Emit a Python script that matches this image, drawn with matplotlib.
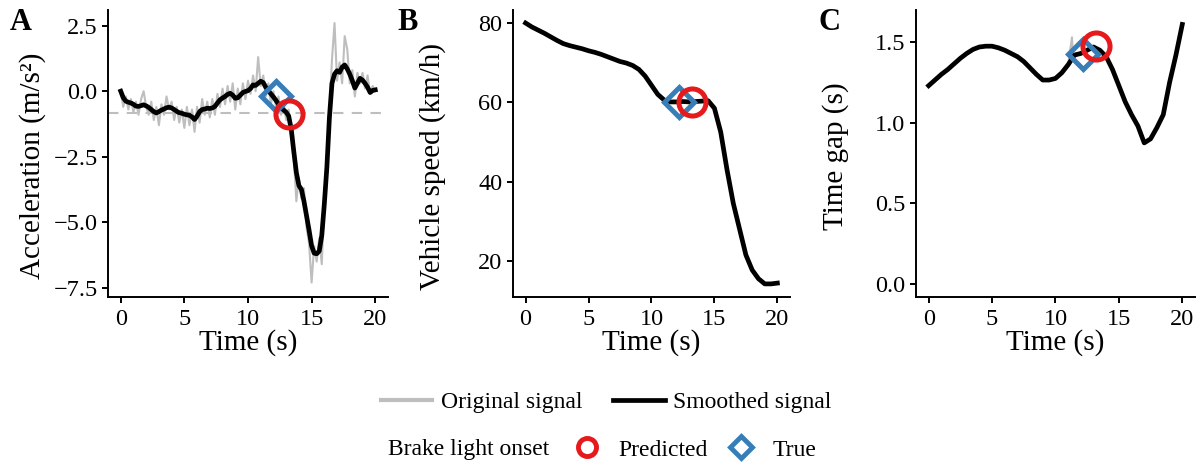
import numpy as np
import matplotlib
matplotlib.use("Agg")
import matplotlib.pyplot as plt
from matplotlib.lines import Line2D
from matplotlib.ticker import FuncFormatter

plt.rcParams['font.family'] = ['Liberation Serif', 'DejaVu Serif']
plt.rcParams['font.size'] = 17

# --- données ---
# accélération, pas de 0.2 s
time_acc = np.arange(0, 20.01, 0.2)
acc_original = [
    0.0, -0.6, -0.2, -0.7, -0.3, -0.8, -0.4, -0.9, -0.3, 0.0,
    -0.6, -0.9, -0.4, -1.1, -0.6, -1.3, -0.5, -0.9, -0.2, -0.7,
    -0.4, -1.1, -0.6, -1.2, -0.7, -1.4, -0.6, -1.3, -0.7, -1.55,
    -0.6, -1.2, -0.3, -0.9, -0.4, -1.0, -0.3, -0.9, -0.1, -0.6,
    0.1, -0.5, 0.2, -0.4, 0.3, -0.7, 0.1, -0.5, 0.3, -0.3,
    0.4, -0.1, 0.6, 0.0, 1.3, 0.2, 0.6, -0.2, 0.3, -0.5,
    0.0, -0.6, -0.2, -0.9, -0.4, -1.1, -0.7, -1.6, -2.5, -4.2,
    -3.3, -4.1, -3.7, -5.2, -5.8, -7.3, -5.9, -6.5, -5.6, -6.6,
    -4.1, -2.5, -0.8, 1.2, 2.6, 0.4, 1.1, 0.3, 2.1, 1.6,
    0.3, 0.8, -0.2, 0.7, 0.3, 0.7, 0.1, 0.6, -0.1, 0.2,
    0.0,
]
acc_smoothed = [
    0.0, -0.25, -0.38, -0.42, -0.45, -0.5, -0.57, -0.58, -0.55, -0.52,
    -0.56, -0.62, -0.7, -0.78, -0.83, -0.78, -0.72, -0.68, -0.63, -0.61,
    -0.64, -0.7, -0.77, -0.82, -0.84, -0.88, -0.9, -0.92, -0.98, -1.08,
    -0.95, -0.78, -0.7, -0.68, -0.65, -0.66, -0.64, -0.58, -0.45, -0.33,
    -0.26, -0.2, -0.12, -0.08, -0.15, -0.27, -0.25, -0.15, -0.05, -0.01,
    0.02, 0.1, 0.24, 0.22, 0.3, 0.38, 0.33, 0.15, 0.02, -0.1,
    -0.22, -0.35, -0.5, -0.62, -0.72, -0.8, -0.95, -1.45, -2.3, -3.1,
    -3.6, -3.75, -4.2, -4.75, -5.3, -5.9, -6.18, -6.2, -6.1, -5.5,
    -4.3, -2.9, -1.0, 0.3, 0.65, 0.78, 0.72, 0.92, 1.0, 0.85,
    0.65, 0.4, 0.12, 0.3, 0.49, 0.42, 0.3, 0.15, -0.05, 0.03,
    0.05,
]
acc_threshold = -0.82

# vitesse et temps inter-véhiculaire, pas de 0.5 s
time_coarse = np.arange(0, 20.01, 0.5)
speed = [
    80.0, 79.0, 78.2, 77.4, 76.5, 75.6, 74.8, 74.3, 73.9, 73.5,
    73.0, 72.6, 72.1, 71.5, 70.9, 70.3, 69.9, 69.3, 68.3, 66.6,
    64.3, 62.0, 60.6, 60.1, 60.1, 60.2, 60.1, 60.2, 60.3, 60.4,
    58.5, 52.5, 43.0, 34.5, 28.0, 21.5, 17.7, 15.5, 14.2, 14.2,
    14.4,
]
time_gap = [
    1.23, 1.265, 1.30, 1.33, 1.365, 1.40, 1.43, 1.455, 1.47, 1.475,
    1.475, 1.465, 1.45, 1.43, 1.41, 1.38, 1.34, 1.30, 1.265, 1.265,
    1.275, 1.31, 1.36, 1.42, 1.43, 1.45, 1.47, 1.45, 1.41, 1.33,
    1.23, 1.13, 1.05, 0.98, 0.875, 0.90, 0.97, 1.05, 1.25, 1.42,
    1.61,
]
gap_orig_t = [11.0, 11.3, 11.4, 11.6]
gap_orig = [1.36, 1.53, 1.40, 1.42]

# début du feu stop
onset_pred_t = 13.2
onset_true_t = 12.2
pred_y = [-0.86, 60.0, 1.475]
true_y = [-0.19, 60.1, 1.425]

GREY = '#BEBEBE'
RED = '#E41A1C'
BLUE = '#377EB8'

fig = plt.figure(figsize=(12, 4.66), dpi=100)

positions = [
    [0.090, 0.3627, 0.2333, 0.616],
    [0.4275, 0.3627, 0.2308, 0.616],
    [0.7633, 0.3627, 0.2325, 0.616],
]
axes = [fig.add_axes(p) for p in positions]
ylabel_xy = [(-0.221, 0.456), (-0.242, 0.456), (-0.240, 0.49)]

one_decimal = FuncFormatter(lambda v, p: f'{v:.1f}'.replace('-', '\u2212'))


def style_axis(ax, i):
    for s in ['top', 'right']:
        ax.spines[s].set_visible(False)
    for s in ['left', 'bottom']:
        ax.spines[s].set_linewidth(1.4)
        ax.spines[s].set_color('black')
    ax.tick_params(direction='out', length=4.5, width=1.4, color='black',
                   labelcolor='black', labelsize=17.5, pad=3)
    ax.tick_params(axis='x', pad=4)
    ax.set_xlim(-1, 21)
    ax.set_xticks([0, 5, 10, 15, 20])
    ax.set_xlabel('Time (s)', fontsize=21)
    ax.xaxis.set_label_coords(0.5, -0.113)
    ax.yaxis.set_label_coords(*ylabel_xy[i])


def draw_onsets(ax, i):
    ax.plot(onset_true_t, true_y[i], marker='D', ms=15, mew=3.6,
            mfc='none', mec=BLUE, ls='none', zorder=5)
    ax.plot(onset_pred_t, pred_y[i], marker='o', ms=19.5, mew=3.6,
            mfc='none', mec=RED, ls='none', zorder=6)


# A : accélération
ax = axes[0]
ax.axhline(acc_threshold, color=GREY, lw=1.5, ls=(0, (5, 4)), zorder=1)
ax.plot(time_acc, acc_original, color=GREY, lw=1.5, zorder=2)
ax.plot(time_acc, acc_smoothed, color='black', lw=3.4, zorder=3)
draw_onsets(ax, 0)
ax.set_ylim(-7.85, 3.1)
ax.set_yticks([-7.5, -5.0, -2.5, 0.0, 2.5])
ax.yaxis.set_major_formatter(one_decimal)
ax.set_ylabel('Acceleration (m/s\u00b2)', fontsize=21)
style_axis(ax, 0)

# B : vitesse
ax = axes[1]
ax.plot(time_coarse, speed, color=GREY, lw=1.5, zorder=2)
ax.plot(time_coarse, speed, color='black', lw=3.4, zorder=3)
draw_onsets(ax, 1)
ax.set_ylim(10.9, 83.3)
ax.set_yticks([20, 40, 60, 80])
ax.set_ylabel('Vehicle speed (km/h)', fontsize=21)
style_axis(ax, 1)

# C : temps inter-véhiculaire
ax = axes[2]
ax.plot(gap_orig_t, gap_orig, color=GREY, lw=1.5, zorder=2)
ax.plot(time_coarse, time_gap, color='black', lw=3.4, zorder=3)
draw_onsets(ax, 2)
ax.set_ylim(-0.081, 1.70)
ax.set_yticks([0.0, 0.5, 1.0, 1.5])
ax.yaxis.set_major_formatter(one_decimal)
ax.set_ylabel('Time gap (s)', fontsize=21)
style_axis(ax, 2)

# lettres des panneaux
for x, lab in zip([10, 397, 818], ['A', 'B', 'C']):
    fig.text(x / 1200, 1 - 22 / 466, lab, fontsize=22, fontweight='bold',
             ha='left', va='center')

# légende ligne 1
line_handles = [Line2D([], [], color=GREY, lw=3),
                Line2D([], [], color='black', lw=3.4)]
fig.legend(line_handles, ['Original signal', 'Smoothed signal'],
           loc='center', bbox_to_anchor=(0.505, 1 - 402 / 466), ncol=2,
           frameon=False, fontsize=17, handlelength=2.2, handletextpad=0.35,
           columnspacing=1.3, borderpad=0, borderaxespad=0)

# légende ligne 2
fig.text(388 / 1200, 1 - 450 / 466, 'Brake light onset', fontsize=17,
         ha='left', va='center')
marker_handles = [
    Line2D([], [], marker='o', ms=13, mew=3.5, mfc='none', mec=RED, ls='none'),
    Line2D([], [], marker='D', ms=11, mew=3.5, mfc='none', mec=BLUE, ls='none'),
]
fig.legend(marker_handles, ['Predicted', 'True'],
           loc='center', bbox_to_anchor=(0.577, 1 - 450 / 466), ncol=2,
           frameon=False, fontsize=17, handlelength=1.6, handletextpad=0.55,
           columnspacing=0.6, borderpad=0, borderaxespad=0)

fig.savefig('out.png', dpi=100)
